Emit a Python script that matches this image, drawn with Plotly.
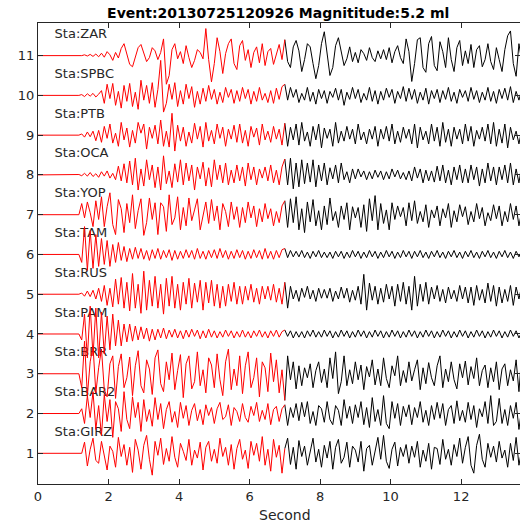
import numpy as np
import plotly.graph_objects as go

# Station names (bottom to top) and their vertical offsets
stations = ["GIRZ", "BAR2", "BRR", "PAM", "RUS", "TAM", "YOP", "OCA", "PTB", "SPBC", "ZAR"]
offsets = list(range(1, 12))

# Sampling of the stored traces: first sample at T0, spacing DT (seconds)
T0 = 1.0
DT = 0.08
SPLIT = 7.0  # window boundary: red before, black after

# Normalised amplitudes in hundredths of a trace spacing
zar = [
    0, 0, 0, 0, 2, -1, 3, -2, 4, -3,
    6, -4, 10, 2, -12, 8, -6, 18, 30, 5,
    -22, -28, -5, 20, 28, 8, -15, -5, 20, 12,
    -10, 8, 42, -72, -50, 15, 30, -8, 10, -20,
    25, -5, -30, -12, 15, 8, -8, 68, -10, -66,
    -20, 45, 10, -45, 5, 30, 42, -20, -35, 25,
    38, -12, 15, -30, 8, 22, -18, 30, -25, 10,
    18, -22, 5, 28, -10, 40, -15, -30, 22, 38,
    12, -40, -10, 30, 22, -20, -58, -25, 30, 60,
    5, -50, -30, 25, 45, 10, -25, -8, 22, -15,
    8, -18, 15, 5, -12, 20, -5, -15, 12, -8,
    15, -10, 20, -18, 10, 25, -5, -20, 42, 10,
    -65, -20, 40, 45, -30, -42, 30, 48, -25, -38,
    35, 10, -30, 45, -10, -40, 20, 38, -25, 12,
    -20, 28, -30, 15, 25, -28, -10, 30, -15, -35,
    20, -10, -40, 15, 50, 62, -20, -52, 30, -15,
    20,
]
spbc = [
    0, 0, 0, 2, -3, 4, -2, 5, -4, 3,
    12, -20, 28, -8, 30, -25, 10, -32, 25, -15,
    30, -28, 8, -35, 38, -12, 25, -20, 32, -30,
    15, 88, -42, -20, 28, -10, 32, -28, 12, -22,
    28, -8, 22, -30, 10, -22, 18, -15, 25, -10,
    15, -22, 8, -18, 20, -5, 15, -20, 12, -15,
    20, -8, 15, -22, 10, -15, 20, -12, 5, -18,
    12, -20, 18, -10, 22, 28, -12, 20, -5, 15,
    -18, 5, -12, 20, -15, 8, -22, 15, -8, 12,
    -20, 10, -5, 18, -12, 15, -25, 8, -10, 20,
    -8, 15, -18, 5, -12, 20, -15, 12, -22, 10,
    -12, 18, -5, 15, -20, 10, -8, 22, -15, 18,
    -10, 15, -20, 8, -12, 18, -22, 12, -8, 15,
    -18, 12, -10, 20, -15, 8, -20, 15, -5, 12,
    -15, 20, -10, 12, -18, 8, -12, 20, -15, 10,
    -20, 15, -8, 18, -12, 22, -18, 10, -12, 15,
    -10,
]
ptb = [
    0, 0, 0, 3, -5, 8, -4, 10, -14, 12,
    -18, 22, -8, 28, -20, 5, -28, 32, -12, 18,
    -30, 12, -20, 32, 5, 28, -35, 20, -8, 25,
    -22, 38, -28, 10, -30, 55, -40, 25, -15, 20,
    -28, 8, -20, 30, -10, 22, -30, 32, -15, 12,
    -22, 28, -8, 20, -28, 15, -10, 25, -18, 28,
    -20, 12, -28, 22, -5, 18, -25, 28, -12, 10,
    -18, 22, -10, 15, -25, 30, -28, 20, -12, 28,
    -25, 32, -15, 8, -28, 22, -12, 28, -32, 18,
    -8, 15, -28, 32, -20, 10, -15, 22, -10, 15,
    -22, 28, -12, 8, -22, 15, -10, 22, -28, 15,
    -10, 22, -15, 28, -22, 10, -18, 20, -8, 15,
    -22, 28, -32, 20, -12, 10, -22, 28, -15, 20,
    -28, 32, -18, 15, -28, 20, -10, 15, -22, 28,
    -15, 22, -28, 12, -10, 20, -15, 28, -22, 32,
    -28, 15, -20, 28, -32, 20, -12, 10, -22, 15,
    -10,
]
oca = [
    0, 0, 1, -2, 4, -3, 6, -4, 3, -6,
    8, -3, 10, -8, 4, -12, 22, -15, 28, -20,
    35, -25, 42, -38, 15, -28, 38, -12, 25, -32,
    20, -38, 48, -22, 10, -32, 28, -18, 38, -25,
    30, -15, 25, -38, 20, -10, 32, -28, 18, -30,
    38, -12, 25, -20, 30, -25, 12, -20, 25, -15,
    20, -28, 30, -12, 20, -25, 15, -8, 20, -15,
    25, -20, 12, -25, 20, 40, -25, 42, -35, 30,
    -30, 38, -22, 30, -18, 38, -30, 25, -15, 30,
    -25, 18, -10, 25, -20, 30, -12, 8, -20, 15,
    -10, 15, -5, 10, -12, 8, -10, 12, -6, 10,
    -12, 8, -10, 15, -5, 12, -10, 6, -12, 10,
    -15, 20, -8, 15, -20, 12, -15, 10, -18, 22,
    -15, 25, -20, 12, -25, 20, -12, 25, -20, 15,
    -20, 25, -12, 20, -28, 15, -20, 30, -15, 20,
    -25, 20, -12, 25, -20, 30, -25, 15, -20, 25,
    -15,
]
yop = [
    0, 0, 0, 28, -8, 32, 5, -30, 35, -12,
    45, -30, 20, 55, -25, -50, 38, 15, -45, 28,
    -20, 50, -35, 10, 40, -52, -20, 42, -12, 30,
    -50, 30, 20, -42, 50, -25, -8, 45, -38, 18,
    -28, 42, -15, 12, 40, -38, -5, 32, -22, 38,
    -15, 22, -38, 28, 8, -30, 32, -12, 20, -32,
    18, -20, 32, -8, 22, -30, 15, -18, 28, -10,
    15, -28, 8, -20, 22, 35, -32, 40, -20, 45,
    -38, 15, -45, 32, -18, 38, -28, 10, -38, 22,
    -25, 42, -15, 8, -32, 22, -12, 30, -38, 20,
    -8, 18, -32, 25, -42, 40, -15, 48, -38, 28,
    -22, 12, -38, 30, -12, 22, -5, 18, -28, 30,
    -15, 35, -22, 8, -18, 25, -32, 12, -8, 22,
    -28, 15, -8, 28, -32, 10, -18, 25, -5, 20,
    -25, 8, -18, 28, -10, 18, -28, 5, -15, 25,
    -10, 22, -28, 8, -18, 28, -12, 22, -28, 10,
    -20,
]
tam = [
    0, 0, 0, -20, 70, -40, 60, -35, 50, -30,
    40, -25, 35, -30, 25, -20, 30, -15, 20, -18,
    15, -12, 18, -10, 15, -12, 10, -15, 12, -10,
    15, -12, 10, -8, 12, -15, 10, -12, 8, -10,
    12, -8, 10, -12, 15, -10, 8, -12, 10, -8,
    12, -10, 15, -8, 10, -12, 8, -10, 12, -8,
    10, -12, 8, -10, 12, -8, 10, -12, 15, -10,
    8, -12, 10, -8, 12, 15, -8, 10, -6, 8,
    -6, 10, -8, 6, -10, 8, -6, 10, -8, 6,
    -8, 6, -10, 8, -6, 8, -10, 6, -8, 10,
    -6, 8, -10, 6, -8, 10, -6, 8, -10, 6,
    -8, 10, -6, 8, -10, 6, -8, 10, -6, 8,
    -10, 8, -6, 10, -8, 6, -10, 8, -6, 10,
    -8, 6, -10, 8, -6, 10, -8, 6, -10, 8,
    -6, 10, -8, 6, -10, 8, -6, 10, -8, 6,
    -10, 8, -6, 10, -8, 6, -10, 8, -6, 10,
    -8,
]
rus = [
    0, 0, 0, 3, -5, 8, -6, 10, -12, 15,
    -18, 22, -28, 15, -32, 38, -25, 42, -35, 30,
    -42, 52, -35, 25, -48, 58, -40, 35, -30, 45,
    -35, 25, -50, 40, -30, 45, -35, 25, -40, 30,
    -25, 40, -35, 28, -20, 35, -40, 30, -22, 35,
    -30, 25, -35, 20, -30, 25, -18, 30, -25, 20,
    -25, 20, -15, 25, -20, 15, -25, 20, -12, 20,
    -15, 25, -20, 15, -25, 30, -35, 20, -12, 10,
    -18, 15, -8, 20, -12, 10, -18, 15, -10, 12,
    -10, 15, -18, 8, -12, 18, -10, 15, -20, 10,
    -15, 20, -25, 50, -40, 28, -15, 20, -25, 15,
    -20, 25, -12, 20, -30, 25, -18, 30, -25, 20,
    -40, 45, -30, 25, -18, 30, -25, 18, -12, 22,
    -18, 12, -22, 18, -12, 10, -18, 22, -12, 18,
    -22, 18, -28, 22, -15, 12, -22, 28, -18, 22,
    -30, 18, -22, 12, -18, 22, -28, 18, -12, 22,
    -18,
]
pam = [
    0, 0, 0, -15, 50, -60, 70, -55, 65, -60,
    55, -50, 45, -40, 50, -30, 35, -30, 25, -20,
    25, -18, 20, -15, 18, -12, 15, -18, 12, -15,
    12, -10, 15, -12, 10, -8, 12, -10, 8, -12,
    10, -8, 12, -6, 10, -12, 8, -10, 12, -8,
    8, -10, 6, -8, 10, -6, 8, -10, 6, -8,
    10, -8, 6, -10, 8, -6, 10, -8, 6, -10,
    8, -6, 10, -8, 6, 10, -6, 8, -10, 6,
    -8, 6, -10, 8, -6, 10, -8, 6, -8, 10,
    -6, 8, -10, 6, -8, 10, -6, 8, -10, 6,
    -8, 10, -6, 8, -10, 6, -8, 10, -6, 8,
    -10, 6, -8, 10, -6, 8, -10, 6, -8, 10,
    -6, 8, -10, 6, -8, 10, -6, 8, -10, 6,
    -8, 10, -6, 8, -10, 6, -8, 10, -6, 8,
    -10, 6, -8, 10, -6, 8, -10, 6, -8, 10,
    -6, 8, -10, 6, -8, 10, -6, 8, -10, 6,
    -8,
]
brr = [
    0, 0, 0, -35, 82, -55, 30, 70, -48, 15,
    62, -40, -58, 25, 45, -62, 18, 50, -35, -10,
    42, -55, 20, 58, -30, -48, 35, 12, -52, 40,
    60, -25, -45, 30, -15, 52, -40, 8, 48, -60,
    25, 45, -38, -20, 55, -30, 10, -48, 40, 22,
    -35, 50, -15, -55, 30, 62, -40, 12, -30, 45,
    -50, 20, 55, -35, -10, 40, -58, 30, 15, -45,
    52, -20, 35, -48, 10, -67, 45, -15, 30, -38,
    20, -30, 15, -10, 25, -35, 8, 30, -22, 12,
    -35, 40, -12, 55, -50, -20, 45, -30, 10, -25,
    30, -15, 22, -40, 18, -8, 35, -28, 12, -30,
    40, -12, -35, 20, -5, 45, -30, 8, -22, 30,
    -18, 10, 35, -40, 15, -25, 28, -10, -30, 20,
    45, -35, 12, -20, 30, -15, -38, 25, -10, 32,
    -28, 18, -12, 40, -30, 8, 22, -35, 15, -20,
    30, -40, 12, 25, -30, 10, -18, 35, -45, 48,
    -20,
]
bar2 = [
    0, 0, 0, 12, -25, 45, -10, 55, -40, 20,
    -55, 48, -20, 35, -60, 30, 12, -45, 55, -15,
    -38, 42, -10, 28, -45, 35, -20, 10, -32, 40,
    -15, 25, -38, 10, 30, -22, 5, -35, 28, -12,
    20, -30, 8, 25, -18, 10, -28, 22, -5, 15,
    -25, 12, 28, -15, -8, 22, -30, 15, 5, -20,
    25, -10, -22, 18, -5, 28, -20, 8, -15, 25,
    -28, 10, 18, -20, 12, 22, -30, 15, -10, 25,
    -18, 28, -8, 30, -25, 5, -30, 20, 12, -22,
    30, -15, -28, 20, 8, -30, 35, -12, 18, -25,
    22, -10, 30, -28, 15, -35, 40, -20, 10, -30,
    45, -25, -38, 30, -12, 25, -30, 18, -8, 22,
    -28, 15, -10, 30, -22, 8, -30, 20, -15, 28,
    -12, 25, -30, 10, 20, -25, 32, -18, 8, -22,
    28, -15, 20, -35, 12, -8, 30, -25, 45, -30,
    -20, 38, -25, 10, -30, 20, -12, 28, -40, 15,
    -10,
]
girz = [
    0, 0, 0, 0, 28, -32, 10, 38, -18, -25,
    30, -10, -42, 18, 5, -35, 40, -8, 22, -30,
    15, -48, 35, 8, -40, 20, 45, -15, -55, 30,
    -5, 38, -28, 12, -20, 42, -10, -35, 25, 5,
    -18, 35, -30, 8, -12, 28, -42, 15, 30, -20,
    10, -25, 38, -8, 15, -30, 22, -40, 12, 35,
    -15, 8, -38, 30, -5, 25, -20, 42, -30, 10,
    -45, 35, -10, 20, -50, 12, 38, -28, 15, -40,
    32, -8, 18, -30, 5, 38, -22, 10, -35, 20,
    -12, 30, -40, 15, 35, -25, -10, 28, -35, 18,
    8, -22, 30, -45, 12, 20, -30, 5, 40, -15,
    45, -20, -38, 10, 28, -32, 15, -8, 22, -25,
    18, -10, 30, -35, 8, -20, 25, -40, 15, 12,
    -28, 35, -15, 10, -30, 22, -8, 38, -25, 15,
    42, -30, -50, 20, 48, -15, -35, 25, -10, 18,
    -22, 30, -12, 8, -35, 25, -18, 40, -30, 10,
    20,
]

traces = [girz, bar2, brr, pam, rus, tam, yop, oca, ptb, spbc, zar]

TXT = "#262626"
FONT = "DejaVu Sans"

fig = go.Figure()

# Station labels sit just above each trace, underneath the waveforms
fig.add_trace(go.Scatter(
    x=[0.47] * len(stations),
    y=[o + 0.52 for o in offsets],
    mode="text",
    text=["Sta:" + s for s in stations],
    textposition="middle right",
    textfont=dict(family=FONT, size=13, color=TXT),
    hoverinfo="skip",
    showlegend=False,
))

for vals, off in zip(traces, offsets):
    amp = np.asarray(vals, dtype=float) / 100.0
    t = T0 + DT * np.arange(len(amp))
    k = int(round((SPLIT - T0) / DT))
    # flat pre-event segment plus the window before SPLIT in red
    t_red = np.concatenate([[0.0], t[: k + 1]])
    y_red = np.concatenate([[0.0], amp[: k + 1]]) + off
    t_blk = t[k:]
    y_blk = amp[k:] + off
    fig.add_trace(go.Scatter(
        x=t_blk, y=y_blk, mode="lines",
        line=dict(color="black", width=1),
        hoverinfo="skip", showlegend=False,
    ))
    fig.add_trace(go.Scatter(
        x=t_red, y=y_red, mode="lines",
        line=dict(color="#ff0000", width=1),
        hoverinfo="skip", showlegend=False,
    ))

W, H = 520, 523
ML, MR, MT, MB = 38, 0, 23, 39

axis_common = dict(
    showgrid=False, zeroline=False,
    showline=True, linecolor=TXT, linewidth=1,
    mirror="ticks", ticks="inside", ticklen=5, tickcolor=TXT, tickwidth=1,
    tickfont=dict(family=FONT, size=13, color=TXT),
)

fig.update_layout(
    width=W, height=H,
    margin=dict(l=ML, r=MR, t=MT, b=MB, pad=0),
    paper_bgcolor="white", plot_bgcolor="white",
    xaxis=dict(range=[0, 13.67], tickvals=[0, 2, 4, 6, 8, 10, 12], **axis_common),
    yaxis=dict(range=[0.228, 11.82], tickvals=offsets, **axis_common),
    title=dict(
        text="<b>Event:20130725120926 Magnititude:5.2 ml</b>",
        font=dict(family=FONT, size=14, color="black"),
        x=0.535, xanchor="center", xref="container",
        y=1 - 13 / H, yanchor="middle", yref="container",
    ),
    annotations=[dict(
        text="Second", xref="paper", yref="paper",
        x=(285 - ML) / (W - ML - MR), y=-(515 - (H - MB)) / (H - MT - MB),
        xanchor="center", yanchor="middle", showarrow=False,
        font=dict(family=FONT, size=14, color=TXT),
    )],
)

fig.write_html("out.html")
